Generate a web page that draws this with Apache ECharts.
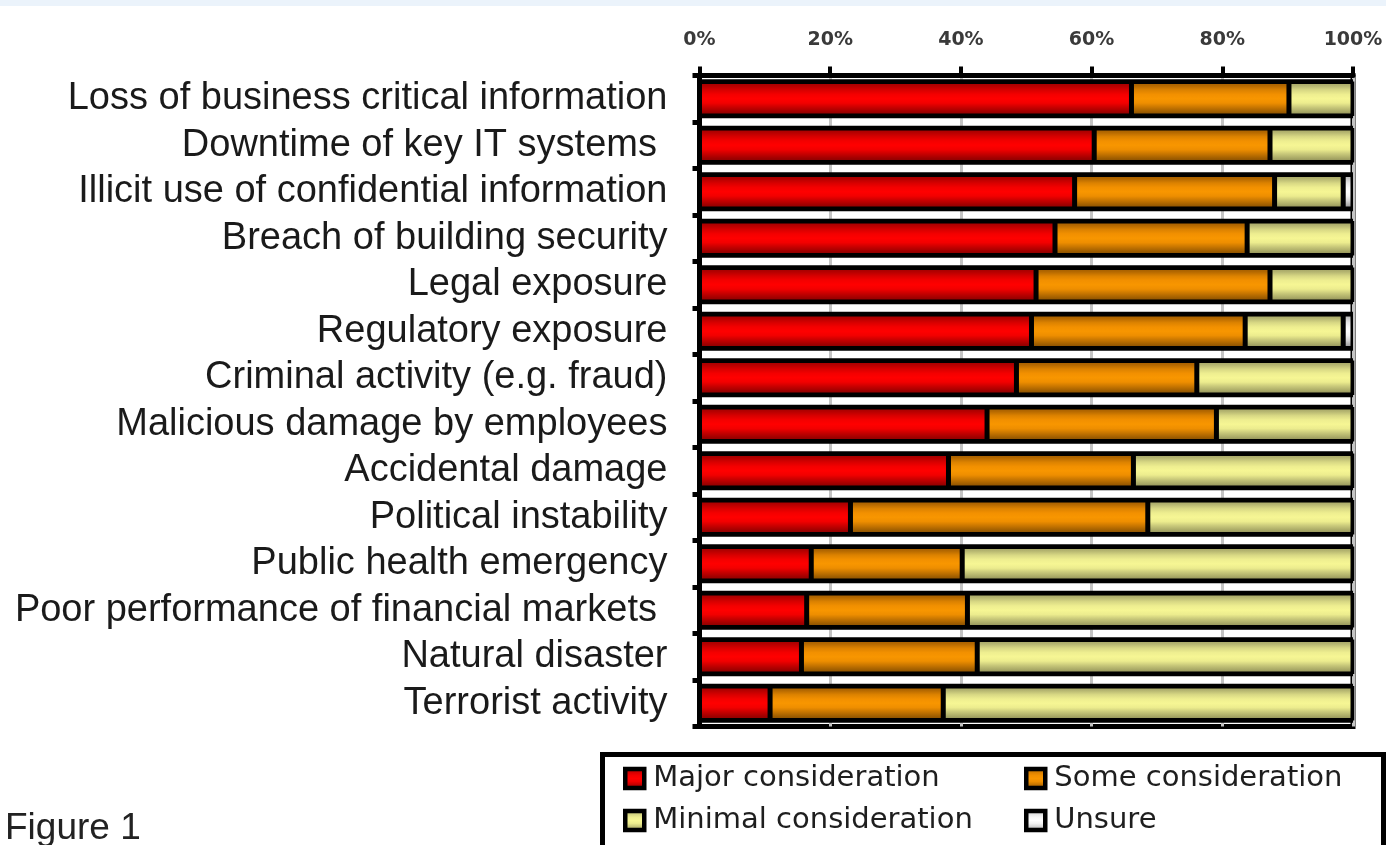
<!DOCTYPE html>
<html>
<head>
<meta charset="utf-8">
<title>Figure 1</title>
<script src="https://cdn.jsdelivr.net/npm/echarts@6/dist/echarts.min.js"></script>
<style>
  html, body { margin: 0; padding: 0; background: #ffffff; }
  #chart { width: 1386px; height: 845px; }
</style>
</head>
<body>
<div id="chart"></div>
<script>
// Risk factors, top to bottom
const categories = [
  'Loss of business critical information',
  'Downtime of key IT systems ',
  'Illicit use of confidential information',
  'Breach of building security',
  'Legal exposure',
  'Regulatory exposure',
  'Criminal activity (e.g. fraud)',
  'Malicious damage by employees',
  'Accidental damage',
  'Political instability',
  'Public health emergency',
  'Poor performance of financial markets ',
  'Natural disaster',
  'Terrorist activity'
];

// Share of respondents (%) per answer
const majorConsideration   = [66.1, 60.4, 57.4, 54.4, 51.5, 50.8, 48.5, 44.0, 38.1, 23.1, 17.1, 16.4, 15.6, 10.8];
const someConsideration    = [24.1, 26.9, 30.6, 29.4, 35.8, 32.7, 27.6, 35.1, 28.3, 45.5, 23.1, 24.6, 26.9, 26.5];
const minimalConsideration = [9.8, 12.7, 10.5, 16.2, 12.7, 15.0, 23.9, 20.9, 33.6, 31.4, 59.8, 59.0, 57.5, 62.7];
const unsure               = [0, 0, 1.5, 0, 0, 1.5, 0, 0, 0, 0, 0, 0, 0, 0];

const seriesNames = ['Major consideration', 'Some consideration', 'Minimal consideration', 'Unsure'];
const xTicks = [0, 20, 40, 60, 80, 100];

const values = [majorConsideration, someConsideration, minimalConsideration, unsure];
// full length of each row, used for the black frame behind every stacked bar
const rowTotals = categories.map(function (_, i) {
  return values.reduce(function (s, arr) { return s + arr[i]; }, 0);
});

// cylinder-like vertical shading for each fill
function shade(stops) {
  return new echarts.graphic.LinearGradient(0, 0, 0, 1,
    stops.map(function (c, i) { return { offset: i / (stops.length - 1), color: c }; }));
}
const fills = [
  shade(['#980000', '#b40000', '#d80000', '#f40000', '#ff0000', '#f20000', '#c80000', '#a00000', '#820000']),
  shade(['#9a5800', '#b46800', '#dc8200', '#f29000', '#f89600', '#ee8e00', '#c87600', '#a05e00', '#7c4800']),
  shade(['#9c9c60', '#b4b470', '#d8d884', '#eeee90', '#f6f694', '#ecec8e', '#c8c87a', '#a8a866', '#848452']),
  shade(['#a8a8a8', '#c8c8c8', '#e8e8e8', '#f8f8f8', '#ffffff', '#f4f4f4', '#d8d8d8', '#b0b0b0', '#888888'])
];

const legendText = { fontFamily: 'DejaVu Sans', fontSize: 29, lineHeight: 29, color: '#1e1e1e', padding: [0, 0, 0, 4] };

const chart = echarts.init(document.getElementById('chart'), null, { renderer: 'canvas' });

chart.setOption({
  backgroundColor: '#ffffff',
  animation: false,
  grid: {
    left: 699.5,
    right: 33,
    top: 75.5,
    bottom: 118.5,
    show: true,
    borderColor: '#000000',
    borderWidth: 5,
    backgroundColor: 'transparent'
  },
  xAxis: {
    type: 'value',
    position: 'top',
    min: 0,
    max: 100,
    interval: 20,
    axisLine: { show: true, lineStyle: { color: '#000000', width: 5 } },
    axisTick: { show: true, length: 9, lineStyle: { color: '#000000', width: 4 } },
    splitLine: { show: true, lineStyle: { color: '#c4c4c4', width: 3 } },
    axisLabel: {
      margin: 26,
      formatter: function (v) { return xTicks.indexOf(v) >= 0 ? v + '%' : ''; },
      fontFamily: 'DejaVu Sans',
      fontWeight: 'bold',
      fontSize: 19,
      color: '#3a3a3a'
    }
  },
  yAxis: [
    {
      type: 'category',
      inverse: true,
      data: categories,
      axisLine: { show: true, lineStyle: { color: '#000000', width: 5 } },
      axisTick: { show: true, length: 7, lineStyle: { color: '#000000', width: 5 } },
      axisLabel: {
        interval: 0,
        margin: 32,
        padding: [6, 0, 0, 0],
        fontFamily: 'Liberation Sans',
        fontSize: 38,
        color: '#1a1a1a'
      }
    },
    {
      // twin axis carrying the wider black frames
      type: 'category',
      inverse: true,
      data: categories,
      show: false
    }
  ],
  legend: [
    {
      data: [seriesNames[0], seriesNames[2]],
      orient: 'vertical',
      left: 618,
      top: 759,
      itemWidth: 19,
      itemHeight: 19,
      itemGap: 13,
      icon: 'rect',
      itemStyle: { borderColor: '#000000', borderWidth: 4.5 },
      textStyle: legendText
    },
    {
      data: [seriesNames[1], seriesNames[3]],
      orient: 'vertical',
      left: 1019,
      top: 759,
      itemWidth: 19,
      itemHeight: 19,
      itemGap: 13,
      icon: 'rect',
      itemStyle: { borderColor: '#000000', borderWidth: 4.5 },
      textStyle: legendText
    }
  ],
  graphic: [
    // pale band along the top edge of the page
    { type: 'rect', left: 0, top: 0, z: -10, shape: { width: 1386, height: 6 }, style: { fill: '#ebf3fb' } },
    // legend frame
    { type: 'rect', z: -5, shape: { x: 602.5, y: 754.5, width: 781, height: 120 },
      style: { fill: '#ffffff', stroke: '#000000', lineWidth: 5 } },
    { type: 'text', x: 5, y: 829, z: 10,
      style: { text: 'Figure 1', font: '37px "Liberation Sans"', fill: '#222222', verticalAlign: 'middle', align: 'left' } }
  ],
  series: [
    {
      name: 'frame',
      type: 'bar',
      yAxisIndex: 1,
      barWidth: 39,
      z: 1,
      silent: true,
      data: rowTotals,
      itemStyle: { color: '#000000' }
    }
  ].concat(seriesNames.map(function (name, i) {
    return {
      name: name,
      type: 'bar',
      stack: 'total',
      yAxisIndex: 0,
      barWidth: 34.5,
      z: 2,
      data: values[i],
      itemStyle: { color: fills[i], borderColor: '#000000', borderWidth: 2.5 },
      emphasis: { disabled: true }
    };
  }))
});
</script>
</body>
</html>
